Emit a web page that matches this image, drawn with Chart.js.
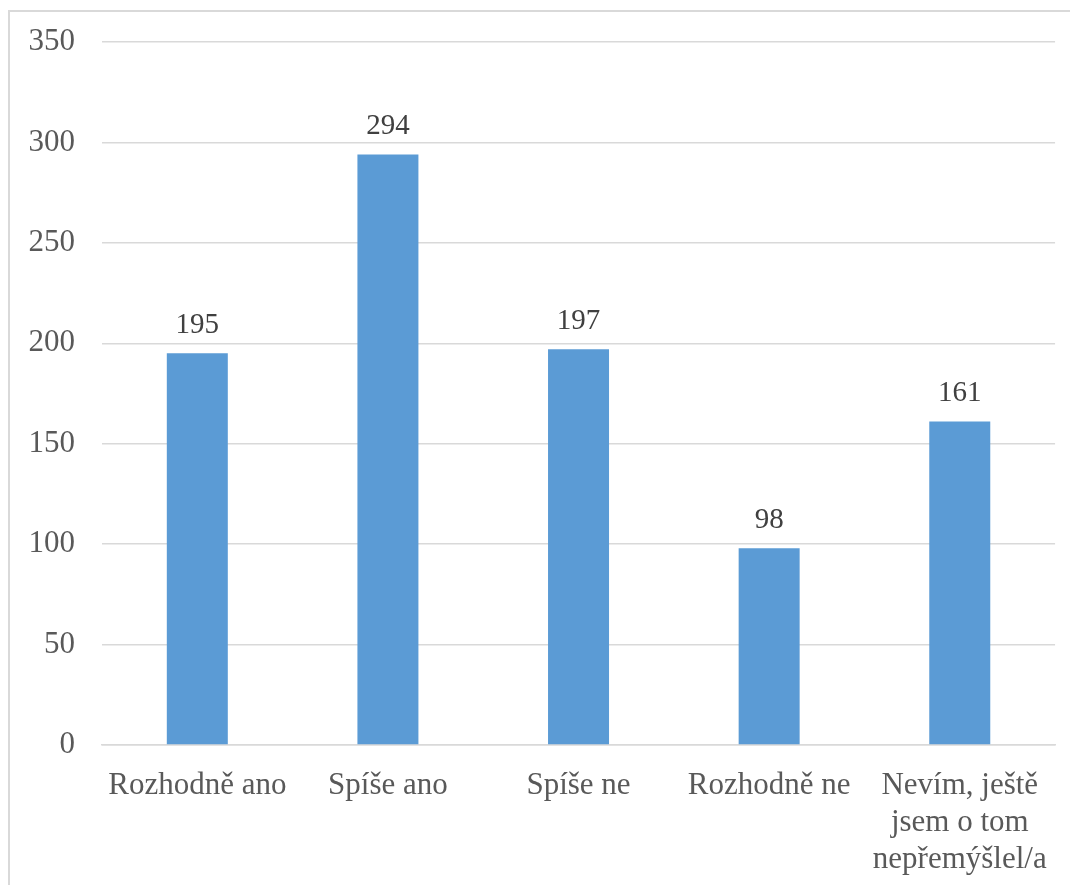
<!DOCTYPE html>
<html>
<head>
<meta charset="utf-8">
<script src="https://cdn.jsdelivr.net/npm/chart.js@4.4.1/dist/chart.umd.min.js"></script>
<style>
  html, body { margin: 0; padding: 0; background: #fff; }
  #wrap { position: relative; width: 1070px; height: 885px; overflow: hidden; }
  #frame { position: absolute; left: 8px; top: 10px; width: 2000px; height: 2000px;
           border-top: 2px solid #d9d9d9; border-left: 2px solid #d9d9d9; }
  canvas { position: absolute; left: 0; top: 0; }
</style>
</head>
<body>
<div id="wrap">
  <div id="frame"></div>
  <canvas id="myChart" width="1070" height="885"></canvas>
</div>
<script>
// odpovedi a pocty
const categories = [
  "Rozhodně ano",
  "Spíše ano",
  "Spíše ne",
  "Rozhodně ne",
  ["Nevím, ještě", "jsem o tom", "nepřemýšlel/a"]
];
const counts = [195, 294, 197, 98, 161];
const yTicks = [0, 50, 100, 150, 200, 250, 300, 350];

const FONT = '"Liberation Serif", "Times New Roman", serif';

// popisky hodnot nad sloupci (bez datalabels pluginu)
const valueLabels = {
  id: "valueLabels",
  afterDatasetsDraw(chart) {
    const ctx = chart.ctx;
    const meta = chart.getDatasetMeta(0);
    ctx.save();
    ctx.font = "29px " + FONT;
    ctx.fillStyle = "#404040";
    ctx.textAlign = "center";
    ctx.textBaseline = "middle";
    meta.data.forEach((bar, i) => {
      ctx.fillText(chart.data.datasets[0].data[i], bar.x, bar.y - 28);
    });
    ctx.restore();
  }
};

new Chart("myChart", {
  type: "bar",
  data: {
    labels: categories,
    datasets: [{
      data: counts,
      backgroundColor: "#5b9bd5",
      categoryPercentage: 1,
      barPercentage: 0.32
    }]
  },
  options: {
    responsive: false,
    animation: false,
    layout: { padding: { top: 0, right: 13, left: 0, bottom: 0 } },
    plugins: {
      legend: { display: false },
      tooltip: { enabled: false }
    },
    scales: {
      y: {
        min: 0,
        max: 350,
        afterFit: s => {
          s.width = 102;
          s.paddingTop = 42;   // horni mrizka na y=42
          s.paddingBottom = 0;
        },
        afterBuildTicks: s => { s.ticks = yTicks.map(v => ({ value: v })); },
        border: { display: false },
        grid: { color: "#d9d9d9", lineWidth: 1.5, drawTicks: false },
        ticks: { color: "#595959", font: { family: FONT, size: 31 }, padding: 27 }
      },
      x: {
        afterFit: s => { s.height = 140; },
        border: { color: "#d9d9d9", width: 1.5 },
        grid: { display: false, drawTicks: false },
        ticks: {
          color: "#595959",
          font: { family: FONT, size: 31, lineHeight: 1.2 },
          padding: 22,
          maxRotation: 0,
          autoSkip: false
        }
      }
    }
  },
  plugins: [valueLabels]
});
</script>
</body>
</html>
